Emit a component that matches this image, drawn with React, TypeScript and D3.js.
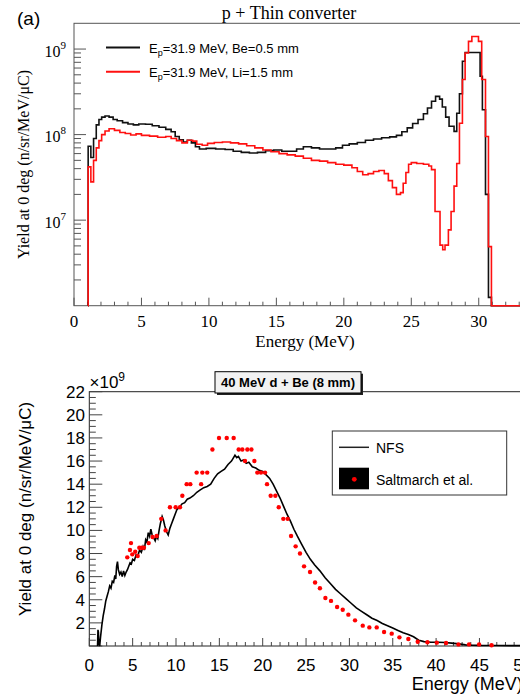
import { useRef, useEffect } from 'react'
import * as d3 from 'd3'

// (a) p + thin converter: step histograms, bin left edge (MeV) and yield
const beEnergy = [1.04, 1.05, 1.25, 1.45, 1.65, 1.85, 2.05, 2.3, 2.6, 2.9, 3.2, 3.6, 4.0, 4.4, 4.8, 5.3, 5.8, 6.3, 6.8, 7.2, 7.5, 7.8, 8.1, 8.4, 8.7, 9.0, 9.3, 9.8, 10.5, 11.2, 11.8, 12.4, 13.0, 13.6, 14.2, 14.8, 15.4, 16.0, 16.5, 17.0, 17.6, 18.2, 18.8, 19.4, 19.9, 20.4, 21.0, 21.6, 22.2, 22.8, 23.4, 23.9, 24.3, 24.7, 25.1, 25.5, 25.9, 26.2, 26.5, 26.8, 27.1, 27.3, 27.55, 27.8, 28.17, 28.37, 28.57, 28.79, 28.99, 30.1, 30.27, 30.5, 30.72, 30.94, 35]
const beYield = [0, 7.3e7, 5.4e7, 9e7, 1.3e8, 1.5e8, 1.6e8, 1.65e8, 1.6e8, 1.5e8, 1.45e8, 1.38e8, 1.33e8, 1.3e8, 1.33e8, 1.32e8, 1.27e8, 1.22e8, 1.15e8, 1.08e8, 9.5e7, 8.7e7, 8.2e7, 8.6e7, 8.0e7, 7.2e7, 6.8e7, 6.9e7, 6.8e7, 6.7e7, 6.4e7, 6.2e7, 6.1e7, 6.2e7, 6.5e7, 6.6e7, 6.4e7, 6.4e7, 6.8e7, 7.2e7, 7.0e7, 6.8e7, 6.8e7, 7.0e7, 7.5e7, 7.8e7, 8.1e7, 8.6e7, 8.9e7, 9.2e7, 9.4e7, 9.8e7, 1.08e8, 1.2e8, 1.35e8, 1.5e8, 1.75e8, 2.05e8, 2.45e8, 2.8e8, 2.6e8, 2.1e8, 1.6e8, 1.25e8, 1.09e8, 1.78e8, 3.0e8, 7.2e8, 9.1e8, 4.8e8, 1.95e8, 2e7, 1.25e6, 0, 0]
const liEnergy = [1.04, 1.05, 1.25, 1.45, 1.65, 1.85, 2.05, 2.3, 2.6, 3.0, 3.4, 3.8, 4.2, 4.6, 5.0, 5.6, 6.2, 6.8, 7.2, 7.6, 8.0, 8.4, 8.8, 9.1, 9.5, 9.9, 10.4, 11.0, 11.6, 12.2, 12.8, 13.4, 14.0, 14.6, 15.2, 15.8, 16.4, 17.0, 17.6, 18.2, 18.8, 19.4, 20.0, 20.6, 21.0, 21.4, 21.8, 22.2, 22.6, 23.0, 23.3, 23.6, 23.9, 24.2, 24.4, 24.6, 24.8, 25.0, 25.4, 25.9, 26.3, 26.5, 26.76, 27.13, 27.33, 27.5, 27.75, 27.95, 28.17, 28.37, 28.57, 28.79, 28.99, 29.24, 29.49, 29.98, 30.22, 30.5, 30.72, 30.94, 35]
const liYield = [0, 4.2e7, 2.8e7, 5e7, 7e7, 8.5e7, 1.0e8, 1.1e8, 1.17e8, 1.12e8, 1.06e8, 1.03e8, 9.9e7, 1.02e8, 9.8e7, 9.6e7, 9.3e7, 9.5e7, 9.0e7, 8.5e7, 8.0e7, 8.6e7, 8.4e7, 7.7e7, 7.5e7, 7.9e7, 8.1e7, 8.2e7, 8.0e7, 7.8e7, 7.4e7, 7.0e7, 6.6e7, 6.3e7, 6.0e7, 5.8e7, 5.6e7, 5.3e7, 5.0e7, 4.9e7, 4.7e7, 4.5e7, 4.4e7, 4.1e7, 3.7e7, 3.4e7, 3.5e7, 3.7e7, 3.8e7, 3.5e7, 2.9e7, 2.4e7, 2.0e7, 2.1e7, 2.7e7, 3.6e7, 4.5e7, 4.7e7, 4.6e7, 4.5e7, 4.3e7, 3.9e7, 1.26e7, 5.1e6, 4.5e6, 5.1e6, 7.7e6, 1.26e7, 2.5e7, 4.6e7, 1.36e8, 4.4e8, 9e8, 1.23e9, 1.4e9, 1.23e9, 4.4e8, 9.5e7, 4.9e6, 0, 0]
const decadeTicks = [1e7, 1e8, 1e9]

// (b) 40 MeV d + Be: NFS spectrum (1e9 n/sr/MeV/uC)
const nfsEnergy = [0.95, 1.0, 1.05, 1.1, 1.2, 1.3, 1.45, 1.6, 1.75, 1.9, 2.05, 2.2, 2.35, 2.5, 2.65, 2.8, 2.95, 3.05, 3.15, 3.25, 3.35, 3.5, 3.65, 3.8, 3.95, 4.1, 4.25, 4.4, 4.55, 4.7, 4.85, 5.0, 5.2, 5.4, 5.6, 5.8, 6.0, 6.2, 6.35, 6.5, 6.65, 6.8, 6.95, 7.1, 7.25, 7.4, 7.6, 7.75, 7.9, 8.05, 8.2, 8.4, 8.55, 8.7, 8.9, 9.1, 9.3, 9.5, 9.7, 9.9, 10.1, 10.4, 10.7, 11.0, 11.3, 11.6, 12.0, 12.4, 12.8, 13.2, 13.6, 14.0, 14.4, 14.8, 15.2, 15.6, 16.0, 16.4, 16.8, 17.0, 17.2, 17.5, 17.8, 18.1, 18.4, 18.8, 19.2, 19.6, 20.0, 20.4, 20.8, 21.2, 21.6, 22.0, 22.4, 22.8, 23.2, 23.6, 24.0, 24.5, 25.0, 25.5, 26.0, 26.6, 27.2, 27.8, 28.4, 29.0, 29.6, 30.2, 30.8, 31.4, 32.0, 32.6, 33.2, 33.8, 34.4, 35.0, 35.6, 36.2, 36.8, 37.4, 38.0, 38.6, 39.4, 40.2, 41.0, 41.8, 42.6, 43.4, 44.2, 45.0, 47.0, 50.0]
const nfsYield = [0, 1.4, 1.2, 0.3, 0, 0.8, 1.8, 2.6, 3.2, 3.9, 4.3, 4.7, 5.2, 5.0, 5.6, 5.5, 6.1, 5.8, 6.9, 7.3, 6.6, 6.2, 6.4, 6.0, 6.5, 6.1, 6.4, 6.6, 6.9, 7.2, 7.1, 7.5, 7.4, 7.9, 7.8, 8.3, 8.1, 8.6, 8.3, 9.2, 9.0, 9.8, 9.5, 10.1, 9.6, 9.4, 9.1, 9.5, 9.3, 10.0, 10.6, 11.2, 10.9, 10.4, 9.9, 9.6, 10.2, 10.6, 11.0, 11.4, 11.8, 12.0, 12.3, 12.4, 12.7, 12.8, 13.0, 13.3, 13.5, 13.7, 13.8, 14.0, 14.5, 14.9, 15.1, 15.3, 15.7, 16.0, 16.5, 16.3, 16.4, 16.0, 16.1, 15.8, 15.9, 15.5, 15.4, 15.2, 15.1, 14.8, 14.5, 14.0, 13.4, 12.8, 12.1, 11.4, 10.8, 10.1, 9.5, 8.8, 8.1, 7.5, 7.0, 6.5, 5.9, 5.4, 4.9, 4.5, 4.1, 3.7, 3.3, 3.0, 2.7, 2.4, 2.2, 1.95, 1.75, 1.55, 1.35, 1.15, 1.0, 0.8, 0.5, 0.38, 0.33, 0.32, 0.3, 0.25, 0.18, 0.1, 0.07, 0.05, 0.04, 0.03]
// Saltmarch et al. points
const saltEnergy = [4.38, 4.69, 4.81, 4.96, 5.3, 5.58, 5.77, 6.04, 6.3, 6.85, 7.3, 7.77, 8.3, 8.8, 9.3, 9.96, 10.46, 10.73, 11.23, 11.65, 12.38, 12.9, 13.04, 13.6, 14.2, 14.96, 15.85, 16.65, 17.23, 17.65, 17.96, 18.23, 18.7, 19.04, 19.38, 19.8, 20.27, 20.5, 20.92, 21.46, 21.85, 22.38, 22.88, 23.27, 23.8, 24.3, 24.77, 25.46, 26.04, 26.6, 27.23, 27.88, 28.58, 29.23, 29.88, 30.65, 31.54, 32.3, 33.15, 34.0, 34.88, 35.77, 36.8, 37.88, 39.0, 40.08, 41.15, 42.58, 43.8, 44.96, 46.4]
const saltYield = [7.67, 8.3, 8.9, 7.93, 8.16, 7.79, 8.5, 8.5, 8.5, 8.9, 9.43, 9.52, 11.0, 10.0, 12.0, 12.0, 12.0, 13.0, 14.0, 14.0, 15.0, 14.0, 15.0, 15.0, 17.0, 18.0, 18.0, 18.0, 17.0, 17.0, 16.0, 17.0, 17.0, 16.0, 15.0, 15.0, 15.0, 14.0, 13.0, 13.0, 12.0, 11.0, 11.0, 9.52, 8.62, 8.0, 6.89, 6.4, 5.5, 5.0, 4.15, 3.9, 3.37, 3.14, 2.71, 2.22, 1.76, 1.61, 1.61, 1.21, 1.07, 0.75, 0.6, 0.37, 0.32, 0.29, 0.26, 0.14, 0.14, 0.14, 0.06]

const serif = '"Liberation Serif", "Times New Roman", serif'
const sans = '"Liberation Sans", Arial, Helvetica, sans-serif'

const drawA = g => {
  const x = d3.scaleLinear().domain([0, 35]).range([74, 546.2])
  const y = d3.scaleLog().domain([1e6, 2e9]).range([305.7, 23.3])
  const yv = v => y(Math.max(v, 1e6))

  g.append('text').attr('x', 17).attr('y', 25).style('font', `19px ${sans}`).text('(a)')
  g.append('text').attr('x', 289).attr('y', 18.5).attr('text-anchor', 'middle')
    .style('font', `18px ${serif}`).text('p + Thin converter')
  g.append('text').attr('transform', 'translate(29,164.5) rotate(-90)').attr('text-anchor', 'middle')
    .style('font', `16px ${serif}`).text('Yield at 0 deg (n/sr/MeV/\u03bcC)')
  g.append('text').attr('x', 305).attr('y', 347).attr('text-anchor', 'middle')
    .style('font', `17px ${serif}`).text('Energy (MeV)')

  // frame
  g.append('rect').attr('x', 74).attr('y', 23.3).attr('width', 472.2).attr('height', 282.4)
    .attr('fill', 'none').attr('stroke', '#555').attr('stroke-width', 1)

  // y ticks (log)
  const minor = []
  for (const dec of [1e6, 1e7, 1e8, 1e9]) for (let k = 2; k <= 9; k++) if (dec * k < 2e9) minor.push(dec * k)
  g.selectAll('.ymin').data(minor).join('line').attr('class', 'ymin')
    .attr('x1', 74).attr('x2', 81).attr('y1', d => y(d)).attr('y2', d => y(d)).attr('stroke', '#555')
  g.selectAll('.ymaj').data(decadeTicks).join('line').attr('class', 'ymaj')
    .attr('x1', 74).attr('x2', 86).attr('y1', d => y(d)).attr('y2', d => y(d)).attr('stroke', '#555')
  const lab = g.selectAll('.ylab').data(decadeTicks).join('text').attr('class', 'ylab')
    .attr('x', 66).attr('y', d => y(d) + 7.5).attr('text-anchor', 'end').style('font', `16px ${serif}`)
  lab.append('tspan').text('10')
  lab.append('tspan').attr('dy', -8).style('font-size', '11px').text(d => String(Math.round(Math.log10(d))))

  // x ticks
  g.selectAll('.xmin').data(d3.range(0, 36, 1)).join('line').attr('class', 'xmin')
    .attr('x1', d => x(d)).attr('x2', d => x(d)).attr('y1', 305.7).attr('y2', d => d % 5 === 0 ? 297.7 : 301.7)
    .attr('stroke', '#555')
  g.selectAll('.xlab').data(d3.range(0, 35, 5)).join('text').attr('class', 'xlab')
    .attr('x', d => x(d)).attr('y', 327).attr('text-anchor', 'middle').style('font', `17px ${serif}`).text(d => d)

  const step = d3.line().curve(d3.curveStepAfter)
  g.append('path').attr('d', step(beEnergy.map((e, i) => [x(e), yv(beYield[i])])))
    .attr('fill', 'none').attr('stroke', '#111').attr('stroke-width', 1.6)
  g.append('path').attr('d', step(liEnergy.map((e, i) => [x(e), yv(liYield[i])])))
    .attr('fill', 'none').attr('stroke', '#ff1010').attr('stroke-width', 1.6)

  // legend
  const leg = [['#111', 'Be=0.5 mm', 47.5], ['#ff1010', 'Li=1.5 mm', 71.7]]
  leg.forEach(([c, t, yy]) => {
    g.append('line').attr('x1', 106).attr('x2', 140).attr('y1', yy).attr('y2', yy).attr('stroke', c).attr('stroke-width', 2)
    const tx = g.append('text').attr('x', 149).attr('y', +yy + 5).style('font', `13px ${sans}`)
    tx.append('tspan').text('E')
    tx.append('tspan').attr('dy', 3).style('font-size', '9px').text('p')
    tx.append('tspan').attr('dy', -3).text(`=31.9 MeV, ${t}`)
  })
}

const drawB = g => {
  const x = d3.scaleLinear().domain([0, 50]).range([89.3, 522.8])
  const y = d3.scaleLinear().domain([0, 22]).range([646, 391.7])

  g.append('rect').attr('x', 89.3).attr('y', 391.7).attr('width', 433.5).attr('height', 254.3)
    .attr('fill', 'none').attr('stroke', '#222').attr('stroke-width', 1)

  g.selectAll('.ymin').data(d3.range(0, 22.01, 0.5)).join('line').attr('class', 'ymin')
    .attr('x1', 89.3).attr('x2', d => d % 2 === 0 ? 102.3 : 95.8)
    .attr('y1', d => y(d)).attr('y2', d => y(d)).attr('stroke', '#444')
  g.selectAll('.ylab').data(d3.range(2, 23, 2)).join('text').attr('class', 'ylab')
    .attr('x', 85).attr('y', d => y(d) + 6).attr('text-anchor', 'end').style('font', `17px ${sans}`).text(d => d)
  const mult = g.append('text').attr('x', 89.5).attr('y', 388).style('font', `17px ${sans}`)
  mult.append('tspan').text('\u00d710')
  mult.append('tspan').attr('dy', -7).style('font-size', '12px').text('9')

  g.selectAll('.xmin').data(d3.range(0, 51, 1)).join('line').attr('class', 'xmin')
    .attr('x1', d => x(d)).attr('x2', d => x(d)).attr('y1', 646).attr('y2', d => d % 5 === 0 ? 638 : 642)
    .attr('stroke', '#444')
  g.selectAll('.xlab').data(d3.range(0, 51, 5)).join('text').attr('class', 'xlab')
    .attr('x', d => x(d)).attr('y', 671).attr('text-anchor', 'middle').style('font', `17px ${sans}`).text(d => d)
  g.append('text').attr('x', 522.8).attr('y', 690).attr('text-anchor', 'end')
    .style('font', `18px ${sans}`).text('Energy (MeV)')
  g.append('text').attr('transform', 'translate(31,509) rotate(-90)').attr('text-anchor', 'middle')
    .style('font', `17px ${sans}`).text('Yield at 0 deg (n/sr/MeV/\u03bcC)')

  const line = d3.line().x((d, i) => x(nfsEnergy[i])).y(d => y(d))
  g.append('path').attr('d', line(nfsYield)).attr('fill', 'none').attr('stroke', '#000').attr('stroke-width', 1.6)

  g.selectAll('.pt').data(saltEnergy).join('circle').attr('class', 'pt')
    .attr('cx', d => x(d)).attr('cy', (d, i) => y(saltYield[i])).attr('r', 2.2).attr('fill', '#ff0000')

  // title box with shadow
  g.append('rect').attr('x', 217).attr('y', 373.7).attr('width', 146).attr('height', 21.3).attr('fill', '#222')
  g.append('rect').attr('x', 215).attr('y', 371.7).attr('width', 146).attr('height', 21.3)
    .attr('fill', '#f2f2f2').attr('stroke', '#000').attr('stroke-width', 1)
  g.append('text').attr('x', 288).attr('y', 387).attr('text-anchor', 'middle')
    .style('font', `bold 13px ${sans}`).text('40 MeV d + Be (8 mm)')

  // legend
  g.append('rect').attr('x', 332.3).attr('y', 431).attr('width', 174.4).attr('height', 64)
    .attr('fill', '#fff').attr('stroke', '#333')
  g.append('line').attr('x1', 339).attr('x2', 369).attr('y1', 447.3).attr('y2', 447.3).attr('stroke', '#222').attr('stroke-width', 1.5)
  g.append('text').attr('x', 376).attr('y', 452.5).style('font', `14px ${sans}`).text('NFS')
  g.append('rect').attr('x', 339).attr('y', 467.7).attr('width', 30).attr('height', 21.6).attr('fill', '#000')
  g.append('circle').attr('cx', 354.3).attr('cy', 479.3).attr('r', 2.4).attr('fill', '#ff0000')
  g.append('text').attr('x', 376).attr('y', 484.5).style('font', `14px ${sans}`).text('Saltmarch et al.')
}

const App = () => {
  const svgRef = useRef(null)

  useEffect(() => {
    const svg = d3.select(svgRef.current)
    svg.selectAll('*').remove()
    drawA(svg.append('g'))
    drawB(svg.append('g'))
  }, [])

  return (
    <div style={{ position: 'absolute', left: 0, top: 0 }}>
      <svg ref={svgRef} width={520} height={694} style={{ display: 'block', background: '#fff' }} />
    </div>
  )
}

export default App
